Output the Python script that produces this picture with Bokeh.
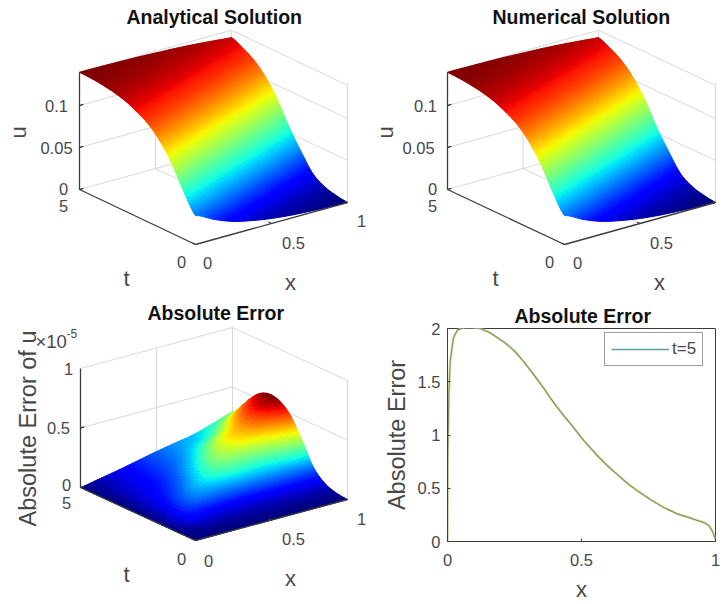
import numpy as np
from bokeh.core.properties import value
from bokeh.embed import file_html
from bokeh.layouts import column, row
from bokeh.models import ColumnDataSource, FixedTicker, Label, Legend, LegendItem, Range1d, Title
from bokeh.plotting import figure
from bokeh.resources import INLINE

# ---------- values ----------
X_NODES = [0, 0.125, 0.25, 0.375, 0.5, 0.625, 0.75, 0.875, 1]
T_NODES = [0, 0.5, 1, 1.5, 2, 2.5, 3, 3.5, 4, 4.5, 5]

ANALYTICAL_U = [
    [.0345, .0235, .015, .0098, .006, .0035, .002, .0008, 0],
    [.056, .045, .0345, .0235, .015, .0098, .006, .0035, .002],
    [.082, .069, .056, .045, .0345, .0235, .015, .0098, .006],
    [.102, .093, .082, .069, .056, .045, .0345, .0235, .015],
    [.116, .110, .102, .093, .082, .069, .056, .045, .0345],
    [.1245, .121, .116, .110, .102, .093, .082, .069, .056],
    [.131, .128, .1245, .121, .116, .110, .102, .093, .082],
    [.135, .133, .131, .128, .1245, .121, .116, .110, .102],
    [.1375, .1365, .135, .133, .131, .128, .1245, .121, .116],
    [.139, .1385, .1375, .1365, .135, .133, .131, .128, .1245],
    [.1396, .1394, .139, .1385, .1375, .1365, .135, .133, .131],
]
NUMERICAL_U = [list(r) for r in ANALYTICAL_U]  # indistinguishable from the analytical surface in the picture

ERROR_U = [  # in units of 1e-5
    [0, 0, 0, 0, 0, 0, 0, 0, 0],
    [0, .012, .012, .012, .012, .012, .012, .012, .012],
    [0, .075, .06, .055, .05, .05, .05, .05, .05],
    [0, .09, .14, .14, .14, .14, .14, .14, .145],
    [0, .075, .145, .215, .26, .26, .26, .30, .33],
    [0, .06, .115, .19, .295, .36, .40, .44, .49],
    [0, .05, .09, .15, .25, .36, .43, .52, .57],
    [0, .042, .075, .12, .19, .29, .38, .50, .58],
    [0, .037, .068, .105, .15, .22, .29, .42, .52],
    [0, .033, .063, .098, .135, .175, .22, .31, .39],
    [0, .03, .06, .095, .13, .16, .19, .24, .29],
]

CURVE_X = [0, .001, .005, .01, .022, .037, .06, .085, .122, .159, .209, .234, .259, .284, .309, .334, .359, .383,
           .408, .433, .458, .483, .508, .533, .558, .583, .608, .633, .658, .682, .707, .732, .757, .782, .807,
           .832, .857, .882, .907, .93, .956, .975, .988, 1]
CURVE_Y = [0, .744, 1.37, 1.69, 1.91, 1.985, 2.01, 2.014, 2.0, 1.96, 1.875, 1.825, 1.765, 1.69, 1.61, 1.525, 1.44, 1.35,
           1.265, 1.185, 1.11, 1.03, .95, .88, .81, .745, .685, .63, .575, .525, .48, .437, .395, .357, .32,
           .29, .26, .24, .22, .2, .18, .15, .10, .02]

X_TICKS = [0, 0.5, 1]
T_TICKS = [0, 5]
U_TICKS = [0, 0.05, 0.1]
ERR_TICKS = [0, 0.5, 1]
CURVE_X_TICKS = [0, 0.5, 1]
CURVE_Y_TICKS = [0, 0.5, 1, 1.5, 2]

# ---------- style ----------
FONT = "Liberation Sans"
GREY = "#484848"
AXIS = "#3c3c3c"
WALL = "#d8d8d8"
TICK_PX = "16.5px"
LABEL_PX = "22px"
TITLE_PX = "19.5px"
SUB = 44  # cells drawn between neighbouring rows of the table (smooth shading)


def jet(v):
    r = np.interp(v, [0, .35, .66, .89, 1], [0, 0, 1, 1, .5])
    g = np.interp(v, [0, .125, .375, .64, .91, 1], [0, 0, 1, 1, 0, 0])
    b = np.interp(v, [0, .11, .34, .65, 1], [.5, 1, 1, 0, 0])
    return ["#%02x%02x%02x" % (int(a * 255), int(c * 255), int(d * 255)) for a, c, d in zip(r, g, b)]


def smooth_axis(a, n, axis):
    """Cubic shading between table nodes, as a shaded surface is drawn."""
    a = np.moveaxis(np.asarray(a, float), axis, 0)
    m = a.shape[0]
    u = np.linspace(0, m - 1, n)
    i = np.clip(np.floor(u).astype(int), 0, m - 2)
    f = (u - i).reshape((-1,) + (1,) * (a.ndim - 1))
    p0, p1, p2, p3 = a[np.maximum(i - 1, 0)], a[i], a[i + 1], a[np.minimum(i + 2, m - 1)]
    out = .5 * (2 * p1 + (p2 - p0) * f + (2 * p0 - 5 * p1 + 4 * p2 - p3) * f ** 2 + (3 * p1 - p0 - 3 * p2 + p3) * f ** 3)
    return np.moveaxis(out, 0, axis)


class View:
    def __init__(self, origin, x_end, t_end, z_per_unit, z_top):
        self.o, self.xe, self.te = np.array(origin, float), np.array(x_end, float), np.array(t_end, float)
        self.k, self.z_top = z_per_unit, z_top

    def __call__(self, x, t, z):
        x, t, z = np.asarray(x, float), np.asarray(t, float), np.asarray(z, float)
        sx = self.o[0] + (self.xe[0] - self.o[0]) * x + (self.te[0] - self.o[0]) * t / 5
        sy = self.o[1] + (self.xe[1] - self.o[1]) * x + (self.te[1] - self.o[1]) * t / 5 - z * self.k
        return sx, sy


def make_panel(w, h, box, title, offset, band):
    left, top = box
    p = figure(width=w, height=h, output_backend="svg", toolbar_location=None, frame_align=False,
               x_range=Range1d(left, left + w), y_range=Range1d(top + h, top + band),
               min_border_left=0, min_border_right=0, min_border_bottom=0, min_border_top=band)
    p.axis.visible = False
    p.grid.visible = False
    p.outline_line_color = None
    p.title = Title(text=title, text_font=FONT, text_font_size=TITLE_PX, text_font_style="bold",
                    text_color="#111111", align="left", offset=offset, standoff=1)
    return p


def txt(p, x, y, s, size=TICK_PX, angle=0.0, align="center", color=GREY):
    p.text([x], [y], text=[s], text_font=value(FONT), text_font_size=value(size), text_color=color,
           text_align=align, text_baseline="middle", angle=angle)


def surface(p, view, table, z_ticks, z_max):
    n_t = (len(T_NODES) - 1) * SUB // 5 + 1
    n_x = (len(X_NODES) - 1) * SUB // 8 + 1
    Z = np.clip(smooth_axis(smooth_axis(table, n_t, 0), n_x, 1), 0, None)
    xs = np.linspace(X_NODES[0], X_NODES[-1], n_x)
    ts = np.linspace(T_NODES[0], T_NODES[-1], n_t)
    X, T = np.meshgrid(xs, ts)
    SX, SY = view(X, T, Z)

    # back walls
    lines_x, lines_y = [], []
    def seg(a, b):
        sx, sy = view([a[0], b[0]], [a[1], b[1]], [a[2], b[2]])
        lines_x.append(list(sx)); lines_y.append(list(sy))
    top = view.z_top
    for zt in z_ticks[1:] + [top]:
        seg((0, 5, zt), (1, 5, zt)); seg((1, 5, zt), (1, 0, zt))
    seg((0, 5, 0), (1, 5, 0)); seg((1, 5, 0), (1, 0, 0))
    seg((1, 5, 0), (1, 5, top)); seg((1, 0, 0), (1, 0, top)); seg((.5, 5, 0), (.5, 5, top)); seg((.5, 0, 0), (.5, 5, 0))
    p.multi_line(lines_x, lines_y, line_color=WALL, line_width=1)

    # cells, far to near
    pxs, pys, cols = [], [], []
    vals = []
    for j in range(n_t - 2, -1, -1):
        for i in range(n_x - 2, -1, -1):
            pxs.append([SX[j, i], SX[j, i + 1], SX[j + 1, i + 1], SX[j + 1, i]])
            pys.append([SY[j, i], SY[j, i + 1], SY[j + 1, i + 1], SY[j + 1, i]])
            vals.append((Z[j, i] + Z[j, i + 1] + Z[j + 1, i + 1] + Z[j + 1, i]) / 4)
    cols = jet(np.array(vals) / z_max)
    src = ColumnDataSource(dict(xs=pxs, ys=pys, c=cols))
    p.patches("xs", "ys", source=src, fill_color="c", line_color="c", line_width=1)

    # axis lines and tick marks
    ax_x, ax_y = [], []
    def aseg(a, b):
        sx, sy = view([a[0], b[0]], [a[1], b[1]], [a[2], b[2]])
        ax_x.append(list(sx)); ax_y.append(list(sy))
    aseg((0, 5, 0), (0, 5, top)); aseg((0, 5, 0), (0, 0, 0)); aseg((0, 0, 0), (1, 0, 0))
    for zt in z_ticks:
        aseg((0, 5, zt), (.025, 5, zt))
    for xt in X_TICKS:
        aseg((xt, 0, 0), (xt, .12, 0))
    p.multi_line(ax_x, ax_y, line_color=AXIS, line_width=1.3)


# ---------- panel 1 ----------
p1 = make_panel(369, 295, (0, 0), "Analytical Solution", 126, 28)
v1 = View((195, 244), (347, 202), (79, 189), 840, 0.1396)
surface(p1, v1, ANALYTICAL_U, U_TICKS, 0.1396)
for s, x, y in [("0.1", 56, 105), ("0.05", 56, 147), ("0", 63, 188), ("5", 63, 205), ("0", 181, 261), ("0", 207, 262),
                ("0.5", 293, 242), ("1", 361, 220)]:
    txt(p1, x, y, s)
txt(p1, 18, 132, "u", LABEL_PX, np.pi / 2); txt(p1, 126, 278, "t", LABEL_PX); txt(p1, 290, 282, "x", LABEL_PX)

# ---------- panel 2 ----------
p2 = make_panel(354, 295, (369, 0), "Numerical Solution", 123, 28)
v2 = View((564, 244), (715, 202), (447, 189), 840, 0.1396)
surface(p2, v2, NUMERICAL_U, U_TICKS, 0.1396)
for s, x, y in [("0.1", 425, 105), ("0.05", 418, 147), ("0", 432, 188), ("5", 432, 205), ("0", 549, 261), ("0", 577, 262),
                ("0.5", 661, 242)]:
    txt(p2, x, y, s)
txt(p2, 385, 132, "u", LABEL_PX, np.pi / 2); txt(p2, 495, 278, "t", LABEL_PX); txt(p2, 659, 282, "x", LABEL_PX)

# ---------- panel 3 ----------
p3 = make_panel(369, 309, (0, 295), "Absolute Error", 147, 29)
v3 = View((195, 540), (347, 499), (80, 487), 119, 1)
surface(p3, v3, ERROR_U, ERR_TICKS[:-1], 0.58)
for s, x, y in [("1", 68, 368), ("0.5", 58, 427), ("0", 66, 484), ("5", 66, 502), ("0", 181, 558), ("0", 208, 560),
                ("0.5", 293, 538), ("1", 361, 518)]:
    txt(p3, x, y, s)
txt(p3, 27, 428, "Absolute Error of u", "23.5px", np.pi / 2); txt(p3, 126, 574, "t", LABEL_PX); txt(p3, 290, 578, "x", LABEL_PX)
txt(p3, 35, 341, "\u00d710", "18.5px", align="left"); txt(p3, 66, 333, "-5", "12px", align="left")

# ---------- panel 4 ----------
p4 = figure(width=354, height=309, output_backend="svg", toolbar_location=None, frame_align=False,
            x_range=Range1d(0, 1), y_range=Range1d(0, 2),
            min_border_left=78, min_border_right=8, min_border_top=33, min_border_bottom=63)
p4.grid.visible = False
p4.outline_line_color = AXIS
p4.title = Title(text="Absolute Error", text_font=FONT, text_font_size=TITLE_PX, text_font_style="bold",
                 text_color="#111111", align="left", offset=67, standoff=4)
p4.xaxis.ticker = FixedTicker(ticks=CURVE_X_TICKS)
p4.yaxis.ticker = FixedTicker(ticks=CURVE_Y_TICKS)
p4.yaxis.major_label_overrides = {0: "0", 0.5: "0.5", 1: "1", 1.5: "1.5", 2: "2"}
p4.xaxis.major_label_overrides = {0: "0", 0.5: "0.5", 1: "1"}
for ax in (p4.xaxis[0], p4.yaxis[0]):
    ax.major_tick_in = 3
    ax.major_tick_out = 0
    ax.minor_tick_in = 0
    ax.minor_tick_out = 0
    ax.axis_line_color = AXIS
    ax.major_tick_line_color = AXIS
    ax.major_label_text_font = FONT
    ax.major_label_text_font_size = TICK_PX
    ax.major_label_text_color = GREY
    ax.axis_label_text_font = FONT
    ax.axis_label_text_font_style = "normal"
    ax.axis_label_text_color = GREY
p4.xaxis.axis_label = "x"
p4.yaxis.axis_label = "Absolute Error"
p4.xaxis.axis_label_text_font_size = LABEL_PX
p4.yaxis.axis_label_text_font_size = "23.5px"
p4.xaxis.major_label_standoff = 12
p4.xaxis.axis_label_standoff = 8
p4.yaxis.major_label_standoff = 7
p4.yaxis.axis_label_standoff = 5
p4.yaxis.major_label_orientation = "horizontal"

line = p4.line(CURVE_X, CURVE_Y, line_color="#5f9aa6", line_width=1.5)
p4.line(CURVE_X, CURVE_Y, line_color="#dcebb0", line_width=2.6)
p4.line(CURVE_X, CURVE_Y, line_color="#7d9562", line_width=1.2)
legend = Legend(items=[LegendItem(label="t=5", renderers=[line])], location=(157, 175), glyph_width=58, glyph_height=16,
                label_text_font=FONT, label_text_font_size="17px", label_text_color=GREY, label_standoff=3,
                border_line_color=AXIS, border_line_width=1.3, padding=6, margin=0, spacing=0)
p4.add_layout(legend, "center")
for s, size, gx, off in [("\u00d710", "18.5px", 0.011, 3), ("-8", "12px", 0.125, 11)]:
    p4.add_layout(Label(x=gx, y=2, y_offset=off, text=s, text_font=FONT, text_font_size=size, text_color=GREY))

page = column(row(p1, p2, spacing=0), row(p3, p4, spacing=0), spacing=0)
open("out.html", "w").write(file_html(page, INLINE))
